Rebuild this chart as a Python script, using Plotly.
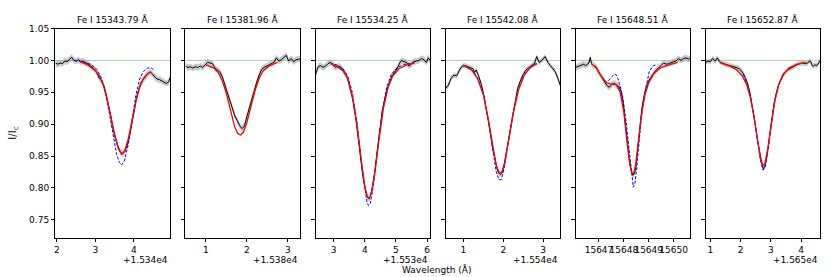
import plotly.graph_objects as go
from plotly.subplots import make_subplots

TITLES = ["Fe I 15343.79 Å", "Fe I 15381.96 Å", "Fe I 15534.25 Å",
          "Fe I 15542.08 Å", "Fe I 15648.51 Å", "Fe I 15652.87 Å"]
OFFSETS = [15340, 15380, 15530, 15540, None, 15650]
OFFSET_LABELS = ["+1.534e4", "+1.538e4", "+1.553e4", "+1.554e4", "", "+1.565e4"]
XTICKS = [[2, 3, 4], [1, 2, 3], [3, 4, 5, 6], [1, 2, 3],
          [15647, 15648, 15649, 15650], [1, 2, 3, 4]]
YTICKS = [0.75, 0.80, 0.85, 0.90, 0.95, 1.00, 1.05]
CONTINUUM = 1.0
ERR = [0.005, 0.005, 0.005, 0.004, 0.005, 0.004]

# ---- panel 1 ----
W1 = [15341.96, 15342.02, 15342.08, 15342.14, 15342.20, 15342.26, 15342.32, 15342.38, 15342.44, 15342.50,
      15342.56, 15342.62, 15342.68, 15342.74, 15342.80, 15342.86, 15342.92, 15342.98, 15343.04, 15343.10,
      15343.16, 15343.22, 15343.28, 15343.34, 15343.40, 15343.46, 15343.52, 15343.58, 15343.64, 15343.70,
      15343.76, 15343.82, 15343.88, 15343.94, 15344.00, 15344.06, 15344.12, 15344.18, 15344.24, 15344.30,
      15344.36, 15344.42, 15344.48, 15344.54, 15344.60, 15344.66, 15344.72, 15344.78, 15344.84, 15344.90, 15344.94]
O1 = [0.996, 0.994, 0.996, 0.995, 0.999, 0.998, 1.001, 1.005, 1.000, 0.999,
      1.001, 0.998, 0.999, 0.996, 0.995, 0.992, 0.989, 0.986, 0.980, 0.972,
      0.968, 0.960, 0.946, 0.930, 0.912, 0.892, 0.878, 0.866, 0.857, 0.853,
      0.857, 0.866, 0.880, 0.897, 0.918, 0.940, 0.955, 0.965, 0.970, 0.975,
      0.979, 0.982, 0.979, 0.974, 0.971, 0.970, 0.968, 0.966, 0.964, 0.966, 0.973]
R1X = [15342.60, 15342.80, 15343.00, 15343.10, 15343.20, 15343.30, 15343.40, 15343.50, 15343.60,
       15343.68, 15343.76, 15343.85, 15343.95, 15344.05, 15344.15, 15344.25, 15344.35, 15344.45]
R1Y = [0.998, 0.993, 0.984, 0.976, 0.962, 0.940, 0.912, 0.882, 0.861,
       0.853, 0.858, 0.876, 0.905, 0.935, 0.958, 0.972, 0.979, 0.982]
B1X = [15342.45, 15342.70, 15342.90, 15343.05, 15343.15, 15343.25, 15343.35, 15343.45, 15343.55, 15343.62,
       15343.68, 15343.75, 15343.85, 15343.95, 15344.05, 15344.15, 15344.25, 15344.35, 15344.45, 15344.55]
B1Y = [1.000, 0.998, 0.993, 0.985, 0.973, 0.952, 0.921, 0.885, 0.853, 0.840,
       0.836, 0.842, 0.867, 0.906, 0.945, 0.971, 0.983, 0.988, 0.988, 0.984]

# ---- panel 2 ----
W2 = [15380.50, 15380.56, 15380.62, 15380.68, 15380.74, 15380.80, 15380.86, 15380.92, 15380.98, 15381.04,
      15381.10, 15381.16, 15381.22, 15381.28, 15381.34, 15381.40, 15381.46, 15381.52, 15381.58, 15381.64,
      15381.70, 15381.76, 15381.82, 15381.88, 15381.94, 15382.00, 15382.06, 15382.12, 15382.18, 15382.24,
      15382.30, 15382.36, 15382.42, 15382.48, 15382.54, 15382.60, 15382.66, 15382.72, 15382.78, 15382.84,
      15382.90, 15382.96, 15383.02, 15383.08, 15383.14, 15383.20, 15383.26, 15383.30]
O2 = [0.991, 0.989, 0.990, 0.988, 0.990, 0.989, 0.991, 0.989, 0.993, 0.997,
      0.996, 0.995, 0.988, 0.985, 0.982, 0.974, 0.962, 0.948, 0.936, 0.924,
      0.914, 0.906, 0.898, 0.893, 0.897, 0.912, 0.926, 0.940, 0.954, 0.966,
      0.977, 0.986, 0.989, 0.991, 0.993, 0.995, 0.997, 1.004, 0.999, 1.001,
      1.005, 1.008, 0.999, 1.003, 0.998, 1.001, 1.002, 1.003]
R2X = [15381.00, 15381.20, 15381.30, 15381.40, 15381.50, 15381.60, 15381.70, 15381.78, 15381.85,
       15381.92, 15382.00, 15382.10, 15382.20, 15382.30, 15382.40, 15382.55, 15382.75]
R2Y = [0.993, 0.988, 0.981, 0.968, 0.948, 0.921, 0.896, 0.885, 0.883,
       0.888, 0.903, 0.928, 0.953, 0.972, 0.984, 0.992, 0.997]
B2X = []
B2Y = []

# ---- panel 3 ----
W3 = [15532.42, 15532.50, 15532.58, 15532.66, 15532.74, 15532.82, 15532.90, 15532.98, 15533.06, 15533.14,
      15533.22, 15533.30, 15533.38, 15533.46, 15533.54, 15533.62, 15533.70, 15533.78, 15533.86, 15533.94,
      15534.02, 15534.08, 15534.13, 15534.18, 15534.24, 15534.32, 15534.40, 15534.48, 15534.56, 15534.64,
      15534.72, 15534.80, 15534.88, 15534.96, 15535.04, 15535.12, 15535.18, 15535.26, 15535.34, 15535.42,
      15535.50, 15535.58, 15535.66, 15535.74, 15535.82, 15535.90, 15535.98, 15536.04, 15536.10]
O3 = [0.977, 0.990, 0.992, 0.989, 0.991, 0.995, 0.997, 0.993, 0.989, 0.991,
      0.990, 0.985, 0.979, 0.970, 0.956, 0.938, 0.914, 0.882, 0.850, 0.818,
      0.796, 0.786, 0.783, 0.787, 0.800, 0.825, 0.858, 0.891, 0.920, 0.938,
      0.955, 0.966, 0.976, 0.982, 0.987, 0.996, 1.000, 0.998, 0.997, 0.991,
      0.994, 0.998, 0.999, 1.000, 1.003, 1.001, 0.997, 1.004, 1.000]
R3X = [15532.90, 15533.10, 15533.30, 15533.45, 15533.60, 15533.75, 15533.90, 15534.00, 15534.08, 15534.14,
       15534.22, 15534.32, 15534.45, 15534.60, 15534.75, 15534.90, 15535.10, 15535.35, 15535.60]
R3Y = [0.995, 0.991, 0.984, 0.972, 0.945, 0.899, 0.839, 0.803, 0.786, 0.783,
       0.792, 0.822, 0.873, 0.925, 0.958, 0.976, 0.987, 0.993, 0.996]
B3X = [15532.90, 15533.10, 15533.30, 15533.45, 15533.60, 15533.75, 15533.90, 15534.00, 15534.07, 15534.12,
       15534.18, 15534.28, 15534.40, 15534.55, 15534.70, 15534.85, 15535.05, 15535.30, 15535.60]
B3Y = [0.996, 0.993, 0.987, 0.976, 0.950, 0.903, 0.838, 0.798, 0.778, 0.772,
       0.776, 0.805, 0.857, 0.916, 0.957, 0.978, 0.989, 0.994, 0.997]

# ---- panel 4 ----
W4 = [15540.55, 15540.62, 15540.69, 15540.76, 15540.83, 15540.90, 15540.97, 15541.04, 15541.11, 15541.18,
      15541.24, 15541.28, 15541.32, 15541.38, 15541.45, 15541.52, 15541.59, 15541.66, 15541.73, 15541.80,
      15541.86, 15541.92, 15541.97, 15542.02, 15542.08, 15542.15, 15542.22, 15542.29, 15542.36, 15542.43,
      15542.50, 15542.57, 15542.64, 15542.71, 15542.78, 15542.84, 15542.90, 15542.97, 15543.05, 15543.12,
      15543.18, 15543.24, 15543.30, 15543.36, 15543.43]
O4 = [0.956, 0.961, 0.972, 0.977, 0.976, 0.985, 0.991, 0.992, 0.990, 0.988,
      0.987, 0.981, 0.985, 0.976, 0.962, 0.943, 0.920, 0.892, 0.863, 0.840,
      0.826, 0.821, 0.824, 0.836, 0.857, 0.886, 0.912, 0.935, 0.956, 0.968,
      0.978, 0.985, 0.989, 0.992, 0.995, 1.006, 0.997, 1.000, 1.006, 0.997,
      0.992, 0.988, 0.983, 0.974, 0.961]
R4X = [15541.00, 15541.20, 15541.35, 15541.50, 15541.62, 15541.72, 15541.82, 15541.90,
       15541.96, 15542.04, 15542.14, 15542.25, 15542.38, 15542.52, 15542.68, 15542.85]
R4Y = [0.992, 0.985, 0.972, 0.946, 0.909, 0.870, 0.836, 0.823,
       0.824, 0.840, 0.876, 0.917, 0.953, 0.976, 0.989, 0.995]
B4X = [15541.00, 15541.20, 15541.35, 15541.50, 15541.62, 15541.72, 15541.82, 15541.89,
       15541.95, 15542.02, 15542.12, 15542.24, 15542.38, 15542.52, 15542.68, 15542.85]
B4Y = [0.993, 0.986, 0.974, 0.947, 0.907, 0.864, 0.826, 0.813,
       0.813, 0.830, 0.870, 0.916, 0.954, 0.977, 0.990, 0.996]

# ---- panel 5 ----
W5 = [15646.06, 15646.14, 15646.22, 15646.30, 15646.38, 15646.46, 15646.54, 15646.60, 15646.65, 15646.70,
      15646.78, 15646.88, 15646.98, 15647.08, 15647.18, 15647.28, 15647.36, 15647.42, 15647.50, 15647.58,
      15647.66, 15647.74, 15647.82, 15647.90, 15647.98, 15648.06, 15648.14, 15648.22, 15648.30, 15648.36,
      15648.42, 15648.48, 15648.56, 15648.64, 15648.72, 15648.80, 15648.90, 15649.00, 15649.10, 15649.20,
      15649.30, 15649.40, 15649.50, 15649.60, 15649.70, 15649.80, 15649.90, 15650.00, 15650.10, 15650.20,
      15650.30, 15650.40, 15650.50, 15650.60, 15650.67]
O5 = [0.989, 0.990, 0.991, 0.993, 0.994, 0.992, 0.995, 0.996, 1.005, 0.995,
      0.992, 0.990, 0.982, 0.975, 0.970, 0.963, 0.959, 0.958, 0.962, 0.964,
      0.963, 0.961, 0.958, 0.950, 0.932, 0.902, 0.870, 0.845, 0.826, 0.820,
      0.822, 0.832, 0.862, 0.895, 0.923, 0.942, 0.958, 0.968, 0.975, 0.980,
      0.985, 0.988, 0.992, 0.996, 0.994, 0.995, 0.997, 0.998, 0.999, 1.003,
      1.000, 1.003, 1.004, 1.002, 1.004]
R5X = [15646.68, 15646.90, 15647.10, 15647.30, 15647.50, 15647.70, 15647.85, 15648.00, 15648.12, 15648.24,
       15648.33, 15648.40, 15648.48, 15648.58, 15648.70, 15648.85, 15649.00, 15649.20, 15649.45, 15649.80, 15650.16]
R5Y = [0.995, 0.988, 0.975, 0.965, 0.963, 0.962, 0.950, 0.918, 0.874, 0.836,
       0.822, 0.823, 0.838, 0.870, 0.912, 0.946, 0.965, 0.979, 0.988, 0.993, 0.997]
B5X = [15647.38, 15647.50, 15647.60, 15647.68, 15647.76, 15647.82, 15647.95, 15648.08, 15648.22, 15648.33,
       15648.38, 15648.44, 15648.52, 15648.62, 15648.75, 15648.89, 15649.02, 15649.16, 15649.35]
B5Y = [0.968, 0.974, 0.978, 0.978, 0.972, 0.964, 0.944, 0.907, 0.856, 0.815,
       0.801, 0.806, 0.832, 0.875, 0.928, 0.958, 0.982, 0.991, 0.994]

# ---- panel 6 ----
W6 = [15650.84, 15650.92, 15651.00, 15651.07, 15651.12, 15651.16, 15651.23, 15651.30, 15651.38, 15651.46,
      15651.55, 15651.64, 15651.73, 15651.82, 15651.91, 15652.00, 15652.08, 15652.16, 15652.24, 15652.32,
      15652.40, 15652.48, 15652.56, 15652.63, 15652.70, 15652.75, 15652.80, 15652.87, 15652.94, 15653.02,
      15653.10, 15653.18, 15653.26, 15653.35, 15653.45, 15653.55, 15653.65, 15653.75, 15653.85, 15653.95,
      15654.05, 15654.14, 15654.22, 15654.28, 15654.32, 15654.36, 15654.40, 15654.46, 15654.52, 15654.58, 15654.63]
O6 = [0.997, 0.999, 0.998, 1.003, 1.001, 0.999, 1.004, 0.998, 0.996, 0.994,
      0.993, 0.992, 0.991, 0.990, 0.988, 0.985, 0.980, 0.972, 0.962, 0.946,
      0.925, 0.900, 0.874, 0.853, 0.838, 0.830, 0.834, 0.851, 0.877, 0.906,
      0.931, 0.949, 0.962, 0.972, 0.980, 0.985, 0.988, 0.991, 0.993, 0.995,
      0.996, 0.995, 0.996, 0.999, 0.998, 0.992, 0.991, 0.993, 0.992, 0.996, 1.000]
R6X = [15651.34, 15651.60, 15651.85, 15652.05, 15652.20, 15652.32, 15652.44, 15652.55, 15652.65, 15652.73,
       15652.80, 15652.90, 15653.00, 15653.12, 15653.25, 15653.40, 15653.60, 15653.85, 15654.15]
R6Y = [0.996, 0.992, 0.986, 0.976, 0.962, 0.942, 0.912, 0.877, 0.848, 0.835,
       0.838, 0.862, 0.898, 0.935, 0.961, 0.978, 0.988, 0.994, 0.997]
B6X = [15652.10, 15652.20, 15652.32, 15652.44, 15652.55, 15652.65, 15652.74, 15652.82, 15652.92,
       15653.02, 15653.14, 15653.26, 15653.40]
B6Y = [0.978, 0.964, 0.944, 0.913, 0.876, 0.844, 0.828, 0.834, 0.864,
       0.902, 0.938, 0.962, 0.977]

PANELS = [(W1, O1, R1X, R1Y, B1X, B1Y), (W2, O2, R2X, R2Y, B2X, B2Y),
          (W3, O3, R3X, R3Y, B3X, B3Y), (W4, O4, R4X, R4Y, B4X, B4Y),
          (W5, O5, R5X, R5Y, B5X, B5Y), (W6, O6, R6X, R6Y, B6X, B6Y)]

# ---- layout geometry (pixels in an 830x277 canvas) ----
WIDTH, HEIGHT = 830, 277
LEFTS = [54.5, 184.7, 314.9, 445.1, 575.3, 705.4]
PW = 114.8
TOP, BOTTOM = 24, 237
FONT = "DejaVu Sans"

fig = make_subplots(rows=1, cols=6, shared_yaxes=False, horizontal_spacing=0.01)

for i, (w, o, rx, ry, bx, by) in enumerate(PANELS):
    col = i + 1
    e = ERR[i]
    lo = [v - e for v in o]
    hi = [v + e for v in o]
    fig.add_trace(go.Scatter(x=w, y=lo, mode="lines", line=dict(width=0, color="rgba(0,0,0,0)"),
                             showlegend=False, hoverinfo="skip"), row=1, col=col)
    fig.add_trace(go.Scatter(x=w, y=hi, mode="lines", line=dict(width=0, color="rgba(0,0,0,0)"),
                             fill="tonexty", fillcolor="rgba(150,150,150,0.5)",
                             showlegend=False, hoverinfo="skip"), row=1, col=col)
    fig.add_trace(go.Scatter(x=w, y=o, mode="lines", line=dict(color="black", width=1),
                             showlegend=False), row=1, col=col)
    if bx:
        fig.add_trace(go.Scatter(x=bx, y=by, mode="lines", line=dict(color="blue", width=1, dash="3px,1.6px"),
                                 showlegend=False), row=1, col=col)
    fig.add_trace(go.Scatter(x=rx, y=ry, mode="lines", line=dict(color="red", width=1.3),
                             showlegend=False), row=1, col=col)

    xa = "xaxis" if i == 0 else f"xaxis{col}"
    ya = "yaxis" if i == 0 else f"yaxis{col}"
    xref = "x" if i == 0 else f"x{col}"
    yref = "y" if i == 0 else f"y{col}"
    d0 = LEFTS[i] / WIDTH
    d1 = (LEFTS[i] + PW) / WIDTH
    off = OFFSETS[i]
    if off is None:
        tv = XTICKS[i]
    else:
        tv = [off + t for t in XTICKS[i]]
    tt = [str(t) for t in XTICKS[i]]
    fig.layout[xa].update(domain=[d0, d1], range=[min(w), max(w)], tickvals=tv, ticktext=tt,
                          tickangle=0, showline=True, mirror=True, linecolor="black", linewidth=1,
                          ticks="outside", ticklen=3.5, tickwidth=0.8, tickcolor="black",
                          showgrid=False, zeroline=False,
                          tickfont=dict(family=FONT, size=9, color="black"))
    fig.layout[ya].update(domain=[1 - BOTTOM / HEIGHT, 1 - TOP / HEIGHT], range=[0.7218, 1.05],
                          tickvals=YTICKS, ticktext=[f"{t:.2f}" for t in YTICKS],
                          showticklabels=(i == 0), showline=True, mirror=True, linecolor="black",
                          linewidth=1, ticks="outside", ticklen=3.5, tickwidth=0.8, tickcolor="black",
                          showgrid=False, zeroline=False,
                          tickfont=dict(family=FONT, size=9, color="black"))
    fig.add_shape(type="line", xref=f"{xref} domain", yref=yref, x0=0, x1=1, y0=CONTINUUM, y1=CONTINUUM,
                  line=dict(color="rgba(0,128,0,0.7)", width=1, dash="1px,1px"), layer="below")
    fig.add_annotation(text=TITLES[i], xref="paper", yref="paper", x=(d0 + d1) / 2, y=1 - 15 / HEIGHT,
                       showarrow=False, xanchor="center", yanchor="middle",
                       font=dict(family=FONT, size=9, color="black"))
    if OFFSET_LABELS[i]:
        fig.add_annotation(text=OFFSET_LABELS[i], xref="paper", yref="paper", x=d1, y=1 - 260 / HEIGHT,
                           showarrow=False, xanchor="right", yanchor="middle",
                           font=dict(family=FONT, size=9, color="black"))

fig.add_annotation(text="Wavelength (Å)", xref="paper", yref="paper", x=436.5 / WIDTH, y=1 - 269 / HEIGHT,
                   showarrow=False, xanchor="center", yanchor="middle",
                   font=dict(family=FONT, size=9, color="black"))
fig.add_annotation(text="I/I<sub>c</sub>", xref="paper", yref="paper", x=13 / WIDTH, y=1 - 130 / HEIGHT,
                   showarrow=False, xanchor="center", yanchor="middle", textangle=-90,
                   font=dict(family=FONT, size=10, color="black"))

fig.update_layout(width=WIDTH, height=HEIGHT, margin=dict(l=0, r=0, t=0, b=0),
                  plot_bgcolor="white", paper_bgcolor="white", showlegend=False)

fig.write_html("out.html", config={"displayModeBar": False},
               post_script="document.body.style.margin='0';document.body.style.overflow='hidden';")
